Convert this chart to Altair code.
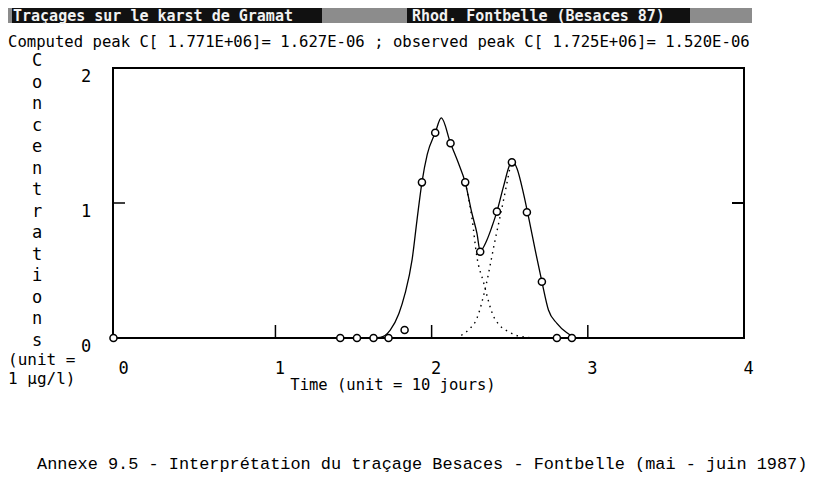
import altair as alt
import pandas as pd

# ---- values (time in units of 10 days, C in ug/l)
obs_t = [-0.037, 1.415, 1.522, 1.628, 1.724, 1.827, 1.938, 2.023, 2.121, 2.215,
         2.311, 2.418, 2.514, 2.610, 2.706, 2.802, 2.898]
obs_c = [0.0, 0.0, 0.0, 0.0, 0.0, 0.059, 1.153, 1.521, 1.442, 1.153,
         0.639, 0.936, 1.301, 0.931, 0.417, 0.0, 0.0]

fit_t = [-0.037, 1.60, 1.671, 1.735, 1.79, 1.83, 1.875, 1.906, 1.938, 1.972, 2.023,
         2.062, 2.121, 2.172, 2.215, 2.258, 2.29, 2.311, 2.354, 2.386, 2.418, 2.46,
         2.503, 2.52, 2.546, 2.588, 2.62, 2.663, 2.706, 2.748, 2.802, 2.866, 2.93, 4.0]
fit_c = [0.0, 0.0, 0.005, 0.059, 0.18, 0.33, 0.58, 0.87, 1.153, 1.36, 1.52,
         1.63, 1.442, 1.294, 1.153, 0.924, 0.776, 0.645, 0.726, 0.824, 0.936, 1.121,
         1.29, 1.31, 1.257, 1.072, 0.899, 0.652, 0.417, 0.207, 0.109, 0.039, 0.0, 0.0]

comp1_t = [2.215, 2.258, 2.29, 2.333, 2.36, 2.386, 2.43, 2.48, 2.535, 2.59, 2.65]
comp1_c = [1.153, 0.89, 0.60, 0.41, 0.29, 0.19, 0.10, 0.055, 0.022, 0.008, 0.0]

comp2_t = [2.19, 2.236, 2.29, 2.35, 2.402, 2.46, 2.503]
comp2_c = [0.02, 0.06, 0.146, 0.40, 0.70, 1.02, 1.27]

x_tick_values = [0, 1, 2, 3, 4]
x_inner_ticks = [1, 2, 3]
y_tick_values = [0, 1, 2]
y_tick_labels = ["0", "1", "2"]
y_inner_ticks = [1]

title_left = "Traçages sur le karst de Gramat"
title_right = "Rhod. Fontbelle (Besaces 87)"
subtitle = "Computed peak C[ 1.771E+06]= 1.627E-06 ; observed peak C[ 1.725E+06]= 1.520E-06"
y_title = "Concentrations"
y_unit = ["(unit =", "1 µg/l)"]
x_title = "Time (unit = 10 jours)"
caption = "Annexe 9.5 - Interprétation du traçage Besaces - Fontbelle (mai - juin 1987)"

W, H = 631, 270
MONO = "DejaVu Sans Mono"
TYPE = "Liberation Mono"

xs = alt.Scale(domain=[-0.04, 4], nice=False, zero=False)
ys = alt.Scale(domain=[0, 2], nice=False, zero=True)
xaxis = alt.Axis(values=x_tick_values, format="d", title=None, grid=False, ticks=False, tickSize=0,
                 domain=False, labelPadding=30, labelBaseline="middle", labelOffset=4,
                 labelFont=MONO, labelFontSize=17, labelColor="black", labelFlush=False,
                 labelOverlap=False, labelBound=False)

X = alt.X("t:Q", scale=xs, axis=xaxis)
Y = alt.Y("c:Q", scale=ys, axis=None)

df_obs = pd.DataFrame({"t": obs_t, "c": obs_c})
df_fit = pd.DataFrame({"t": fit_t, "c": fit_c})
df_comp = pd.concat([
    pd.DataFrame({"t": comp1_t, "c": comp1_c, "k": "1"}),
    pd.DataFrame({"t": comp2_t, "c": comp2_c, "k": "2"}),
])
df_ylab = pd.DataFrame({"c": y_tick_values, "lab": y_tick_labels})
one = pd.DataFrame({"a": [0]})

fit = alt.Chart(df_fit).mark_line(color="black", strokeWidth=1.3,
                                  interpolate="monotone").encode(x=X, y=Y)
comp = alt.Chart(df_comp).mark_line(color="black", strokeWidth=1.4, strokeDash=[1.5, 4.5],
                                    interpolate="monotone").encode(x=X, y=Y, detail="k:N")
obs = alt.Chart(df_obs).mark_point(shape="circle", size=50, filled=True, fill="white",
                                   stroke="black", strokeWidth=1.5, opacity=1).encode(x=X, y=Y)

xt = alt.Chart(pd.DataFrame({"t": x_inner_ticks})).mark_rule(color="black", strokeWidth=1.5).encode(
    x=X, y=alt.value(H), y2=alt.value(H - 13))
ytl = alt.Chart(pd.DataFrame({"c": y_inner_ticks})).mark_rule(color="black", strokeWidth=1.5).encode(
    y=Y, x=alt.value(0), x2=alt.value(12))
ytr = alt.Chart(pd.DataFrame({"c": y_inner_ticks})).mark_rule(color="black", strokeWidth=2).encode(
    y=Y, x=alt.value(W - 12), x2=alt.value(W))
ylab = alt.Chart(df_ylab).mark_text(font=MONO, fontSize=17, align="center", baseline="middle",
                                    dy=9, color="black").encode(
    y=Y, x=alt.value(-27), text="lab:N")


def rect(x1, x2, y1, y2, color):
    return alt.Chart(one).mark_rect(color=color).encode(
        x=alt.value(x1), x2=alt.value(x2), y=alt.value(y1), y2=alt.value(y2))


def txt(text, x, y, size, align="left", font=MONO, color="black", **kw):
    return alt.Chart(one).mark_text(text=text, align=align, baseline="alphabetic", font=font,
                                    fontSize=size, color=color, **kw).encode(
        x=alt.value(x), y=alt.value(y))


layers = [
    rect(-105, 639, -60, -45, "#8c8c8c"),
    rect(-101, 209, -60, -45, "#111111"),
    rect(294, 577, -60, -45, "#111111"),
    txt(title_left, -100, -47.5, 15, color="#f2f2f2", fontWeight="bold"),
    txt(title_right, 299, -47.5, 15, color="#f2f2f2", fontWeight="bold"),
    txt(subtitle, -105, -21, 15.6),
    txt("\n".join(list(y_title)), -76, -2, 17, align="center", lineBreak="\n", lineHeight=21.5),
    txt(y_unit[0], -105, 297, 16),
    txt(y_unit[1], -105, 316, 16),
    txt(x_title, 280, 322, 15.5, align="center"),
    txt(caption, -76, 401, 16.9, font=TYPE),
    fit, comp, xt, ytl, ytr, ylab, obs,
]

chart = alt.layer(*layers).properties(
    width=W, height=H,
    autosize=alt.AutoSizeParams(type="none"),
    padding={"left": 105, "top": 60, "right": 64, "bottom": 139},
    background="white",
).configure_view(stroke="black", strokeWidth=2)

chart.save("out.html", embed_options={"renderer": "svg", "actions": False})
